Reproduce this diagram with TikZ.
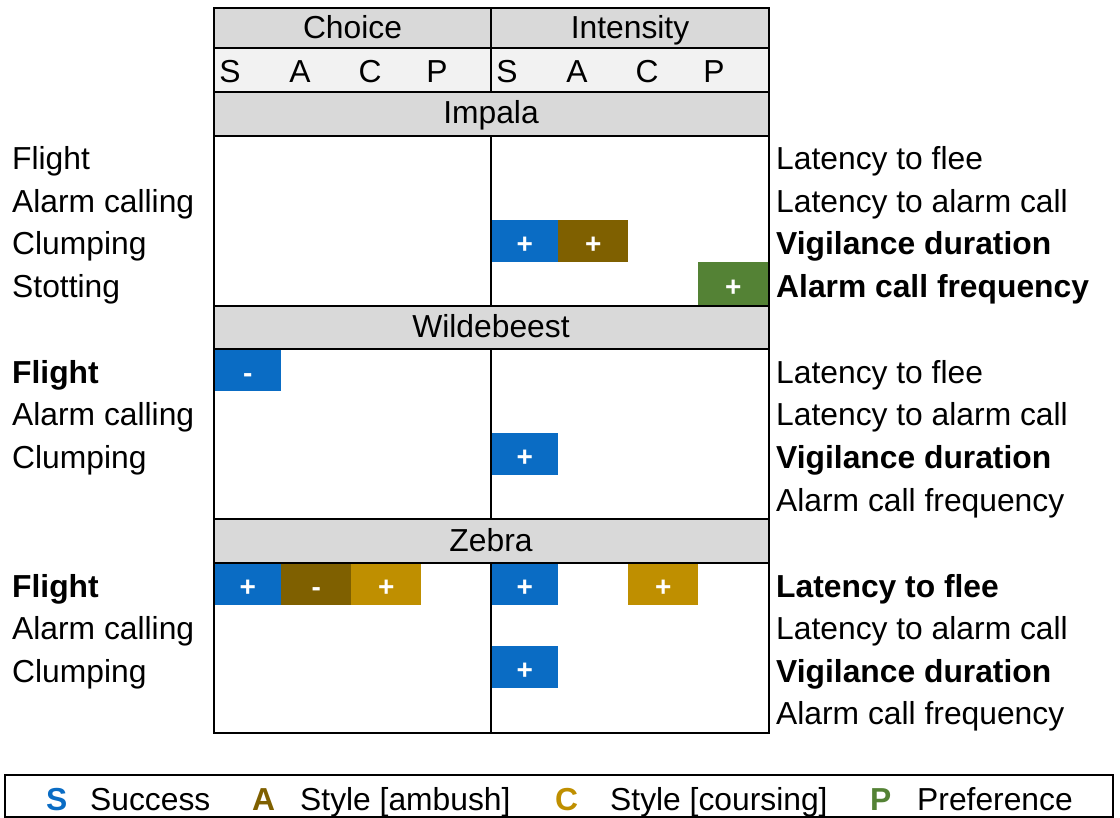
\documentclass[tikz,border=0pt]{standalone}
\usepackage{fontspec}
\setmainfont{Liberation Sans}
\definecolor{cS}{HTML}{0A6CC4}
\definecolor{cA}{HTML}{7F6000}
\definecolor{cC}{HTML}{BF8F00}
\definecolor{cP}{HTML}{548235}
\definecolor{gdark}{HTML}{D9D9D9}
\definecolor{glight}{HTML}{F2F2F2}
\newcommand{\sgn}[1]{\smash{\raisebox{-12pt}{#1}}}
\begin{document}
\begin{tikzpicture}[x=1pt,y=-1pt,
  txt/.style={font=\fontsize{31.8}{37}\selectfont, inner sep=0pt, anchor=base west},
  btxt/.style={txt, font=\bfseries\fontsize{31.8}{37}\selectfont},
  hdr/.style={font=\fontsize{31.8}{37}\selectfont, inner sep=0pt, anchor=base},
  cellbox/.style={inner sep=0pt, anchor=north west, minimum height=42pt, text=white,
    font=\bfseries\fontsize{28}{30}\selectfont},
  w67/.style={minimum width=67pt},
  w70/.style={minimum width=70pt},
  grid/.style={line width=2pt, black},
  legl/.style={font=\bfseries\fontsize{31.8}{37}\selectfont, inner sep=0pt, anchor=base west}
]
\useasboundingbox (0,0) rectangle (1120,818);
% header fills
\fill[gdark] (214,8) rectangle (769,48);
\fill[glight] (214,48) rectangle (769,92);
\fill[gdark] (214,92) rectangle (769,136);
\fill[gdark] (214,306) rectangle (769,349);
\fill[gdark] (214,519) rectangle (769,563);
% headers
\node[hdr] (hChoice) at (352.5,39) {Choice};
\node[hdr] (hInt) at (630,39) {Intensity};
\node[hdr] (s1) at (230,83) {S};
\node[hdr] (a1) at (300,83) {A};
\node[hdr] (c1) at (370,83) {C};
\node[hdr] (p1) at (437,83) {P};
\node[hdr] (s2) at (507,83) {S};
\node[hdr] (a2) at (577,83) {A};
\node[hdr] (c2) at (647,83) {C};
\node[hdr] (p2) at (714,83) {P};
\node[hdr] (bImp) at (491,124) {Impala};
\node[hdr] (bWil) at (491,338) {Wildebeest};
\node[hdr] (bZeb) at (491,551) {Zebra};
% cells
\node[cellbox,w67,fill=cS] (ivS) at (491,220) {\sgn{+}};
\node[cellbox,w70,fill=cA] (ivA) at (558,220) {\sgn{+}};
\node[cellbox,w70,minimum height=44pt,fill=cP] (iaP) at (698,262) {\sgn{+}};
\node[cellbox,w67,fill=cS] (wfS) at (214,349) {\sgn{-}};
\node[cellbox,w67,fill=cS] (wvS) at (491,433) {\sgn{+}};
\node[cellbox,w67,fill=cS] (zfS) at (214,563) {\sgn{+}};
\node[cellbox,w70,fill=cA] (zfA) at (281,563) {\sgn{-}};
\node[cellbox,w70,fill=cC] (zfC) at (351,563) {\sgn{+}};
\node[cellbox,w67,fill=cS] (zlS) at (491,563) {\sgn{+}};
\node[cellbox,w70,fill=cC] (zlC) at (628,563) {\sgn{+}};
\node[cellbox,w67,fill=cS] (zvS) at (491,646) {\sgn{+}};
% grid lines
\draw[grid] (214,8) rectangle (769,733);
\foreach \yy in {48,92,136,306,349,519,563} \draw[grid] (214,\yy) -- (769,\yy);
\draw[grid] (491,8) -- (491,92);
\draw[grid] (491,136) -- (491,306);
\draw[grid] (491,349) -- (491,519);
\draw[grid] (491,563) -- (491,733);
% impala
\node[txt] (li1) at (12,170) {Flight};
\node[txt] (li2) at (12,212.5) {Alarm calling};
\node[txt] (li3) at (12,255) {Clumping};
\node[txt] (li4) at (12,297.5) {Stotting};
\node[txt] (ri1) at (776,170) {Latency to flee};
\node[txt] (ri2) at (776,212.5) {Latency to alarm call};
\node[btxt] (ri3) at (776,255) {Vigilance duration};
\node[btxt] (ri4) at (776,297.5) {Alarm call frequency};
% wildebeest
\node[btxt] (lw1) at (12,383.5) {Flight};
\node[txt] (lw2) at (12,426) {Alarm calling};
\node[txt] (lw3) at (12,468.5) {Clumping};
\node[txt] (rw1) at (776,383.5) {Latency to flee};
\node[txt] (rw2) at (776,426) {Latency to alarm call};
\node[btxt] (rw3) at (776,468.5) {Vigilance duration};
\node[txt] (rw4) at (776,511) {Alarm call frequency};
% zebra
\node[btxt] (lz1) at (12,597) {Flight};
\node[txt] (lz2) at (12,639.5) {Alarm calling};
\node[txt] (lz3) at (12,682) {Clumping};
\node[btxt] (rz1) at (776,597) {Latency to flee};
\node[txt] (rz2) at (776,639.5) {Latency to alarm call};
\node[btxt] (rz3) at (776,682) {Vigilance duration};
\node[txt] (rz4) at (776,724.5) {Alarm call frequency};
% legend
\draw[line width=2pt] (5,775) rectangle (1113,817);
\node[legl,text=cS] (lgS) at (46,810) {S};
\node[txt] (lgSt) at (90,810) {Success};
\node[legl,text=cA] (lgA) at (252,810) {A};
\node[txt] (lgAt) at (300,810) {Style [ambush]};
\node[legl,text=cC] (lgC) at (555,810) {C};
\node[txt] (lgCt) at (610,810) {Style [coursing]};
\node[legl,text=cP] (lgP) at (870,810) {P};
\node[txt] (lgPt) at (917,810) {Preference};
\end{tikzpicture}
\end{document}
